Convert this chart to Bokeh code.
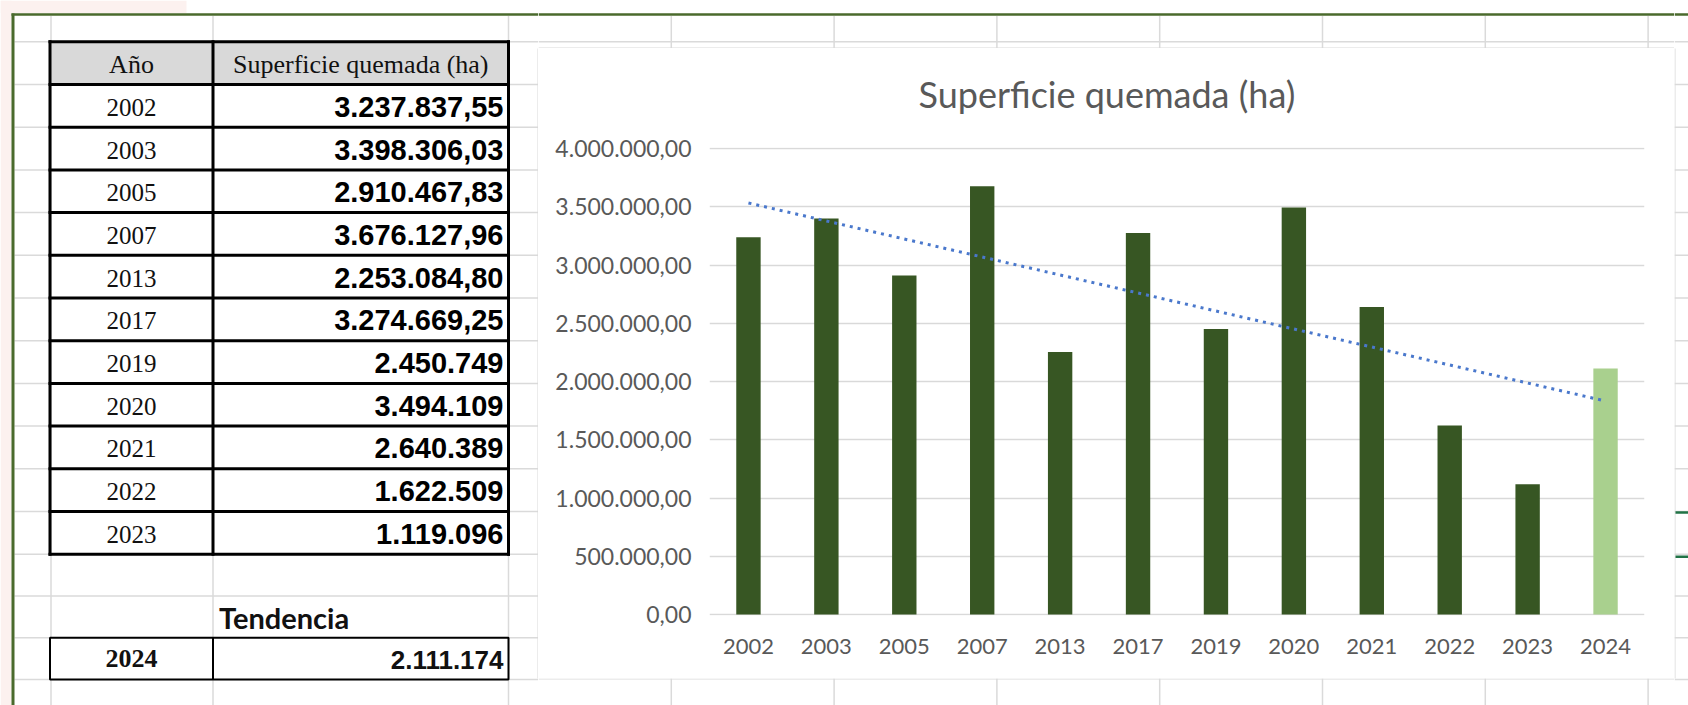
import numpy as np
from bokeh.plotting import figure
from bokeh.layouts import row, column
from bokeh.models import Range1d, FactorRange, FixedTicker, CustomJSTickFormatter, ColumnDataSource, Title
from bokeh.core.properties import value
from bokeh.embed import file_html
from bokeh.resources import INLINE

# ---------------- data ----------------
years = ["2002", "2003", "2005", "2007", "2013", "2017", "2019", "2020", "2021", "2022", "2023"]
burned_ha = [3237837.55, 3398306.03, 2910467.83, 3676127.96, 2253084.80, 3274669.25,
             2450749, 3494109, 2640389, 1622509, 1119096]
forecast_year = "2024"
forecast_ha = 2111174
y_ticks = [0, 500000, 1000000, 1500000, 2000000, 2500000, 3000000, 3500000, 4000000]
chart_title = "Superficie quemada (ha)"
header_year = "Año"
header_value = "Superficie quemada (ha)"
trend_label = "Tendencia"

# ---------------- styles / layout ----------------
GRID = "#dadada"
PAGE_GREEN = "#4a6a2c"
SEL_GREEN = "#217346"
DARK_BAR = "#375623"
LIGHT_BAR = "#a9d08e"
TREND = "#4a78cc"
AXIS_TXT = "#595959"
CHART_BORDER = "#d9d9d9"

X0, X1, Y0, Y1 = 0, 1688, 0, 705
CH_L, CH_R, CH_T, CH_B = 538, 1674, 48, 678
ROW_TOP, ROW_H, EXTRA_H = 41.3, 42.7, 41.8
T_LEFT, T_MID, T_RIGHT = 49.5, 212.5, 508.0

table_edges = [ROW_TOP + i * ROW_H for i in range(len(years) + 2)]
extra_edges = [table_edges[-1] + k * EXTRA_H for k in range(1, 4)]
grid_rows = table_edges + extra_edges
col_edges = [50.5, 212.5, 508.0] + [508.0 + 162.8 * k for k in range(1, 8)]


def fmt_es(v):
    if float(v).is_integer():
        s = f"{int(v):,}"
    else:
        s = f"{v:,.2f}"
    return s.replace(",", "X").replace(".", ",").replace("X", ".")


def canvas(x0, x1, y0, y1):
    p = figure(width=int(round(x1 - x0)), height=int(round(y1 - y0)),
               x_range=Range1d(x0, x1), y_range=Range1d(y1, y0),
               x_axis_type=None, y_axis_type=None, toolbar_location=None,
               output_backend="svg", min_border=0, outline_line_color=None,
               frame_align=False)
    p.background_fill_color = "white"
    p.border_fill_color = "white"
    return p


def hlines(p, ys, xa, xb, **kw):
    p.segment(x0=[xa] * len(ys), x1=[xb] * len(ys), y0=ys, y1=ys, **kw)


def vlines(p, xs, ya, yb, **kw):
    p.segment(x0=xs, x1=xs, y0=[ya] * len(xs), y1=[yb] * len(xs), **kw)


# ---------------- left part: sheet + table ----------------
left = canvas(X0, CH_L, Y0, Y1)
left.quad(left=[0, 0], right=[11, 186], top=[0, 0], bottom=[Y1, 12.5], fill_color="#fcf1ef", line_color=None)
hlines(left, grid_rows, 14, CH_L, line_color=GRID, line_width=1.5)
vlines(left, [c for c in col_edges if c < CH_L], 15.5, Y1, line_color=GRID, line_width=1.5)
vlines(left, [CH_L - 0.5], CH_T, CH_B, line_color=CHART_BORDER, line_width=1)

# header fill
left.quad(left=[T_LEFT], right=[T_RIGHT], top=[table_edges[0]], bottom=[table_edges[1]],
          fill_color="#d9d9d9", line_color=None)
# table borders
hlines(left, table_edges, T_LEFT, T_RIGHT, line_color="black", line_width=3, line_cap="square")
vlines(left, [T_LEFT, T_MID, T_RIGHT], table_edges[0], table_edges[-1], line_color="black", line_width=3, line_cap="square")

row_centers = [(table_edges[i] + table_edges[i + 1]) / 2 for i in range(len(table_edges) - 1)]
col1_c = (T_LEFT + T_MID) / 2
col2_c = (T_MID + T_RIGHT) / 2

left.text(x=[col1_c, col2_c], y=[row_centers[0] + 1] * 2, text=[header_year, header_value],
          text_font=value("Liberation Serif"), text_font_size=value("26px"),
          text_color="#111111", text_align="center", text_baseline="middle")
left.text(x=[col1_c] * len(years), y=[c + 1.5 for c in row_centers[1:]], text=years,
          text_font=value("Liberation Serif"), text_font_size=value("25px"),
          text_color="#111111", text_align="center", text_baseline="middle")
left.text(x=[T_RIGHT - 5] * len(years), y=[c + 1 for c in row_centers[1:]],
          text=[fmt_es(v) for v in burned_ha],
          text_font=value("Liberation Sans"), text_font_style="bold", text_font_size=value("29px"),
          text_color="#000000", text_align="right", text_baseline="middle")

# trend / forecast cell
tend_c = (extra_edges[0] + extra_edges[1]) / 2
left.text(x=[T_MID + 6], y=[tend_c + 1], text=[trend_label],
          text_font=value("Lato"), text_font_style="bold", text_font_size=value("29px"),
          text_color="#111111", text_align="left", text_baseline="middle")
box_top, box_bot = extra_edges[1], extra_edges[2]
left.quad(left=[T_LEFT], right=[T_RIGHT], top=[box_top], bottom=[box_bot],
          fill_color="white", line_color="black", line_width=2)
vlines(left, [T_MID], box_top, box_bot, line_color="black", line_width=2)
box_c = (box_top + box_bot) / 2
left.text(x=[col1_c], y=[box_c], text=[forecast_year],
          text_font=value("Liberation Serif"), text_font_style="bold", text_font_size=value("26px"),
          text_color="#111111", text_align="center", text_baseline="middle")
left.text(x=[T_RIGHT - 5], y=[box_c + 1], text=[fmt_es(forecast_ha)],
          text_font=value("Liberation Sans"), text_font_style="bold", text_font_size=value("26px"),
          text_color="#111111", text_align="right", text_baseline="middle")

# page border (green)
vlines(left, [12.5], 13, Y1, line_color=PAGE_GREEN, line_width=3)
hlines(left, [13.9], 11, CH_L, line_color=PAGE_GREEN, line_width=2.5)

# ---------------- top / bottom / right strips ----------------
top = canvas(CH_L, CH_R, Y0, CH_T)
hlines(top, [grid_rows[0]], CH_L, CH_R, line_color=GRID, line_width=1.5)
vlines(top, [c for c in col_edges if CH_L < c < CH_R], 15.5, CH_T, line_color=GRID, line_width=1.5)
hlines(top, [CH_T - 0.5], CH_L, CH_R, line_color=CHART_BORDER, line_width=1)
hlines(top, [13.9], CH_L, CH_R, line_color=PAGE_GREEN, line_width=2.5)

bottom = canvas(CH_L, CH_R, CH_B, Y1)
vlines(bottom, [c for c in col_edges if CH_L < c < CH_R], CH_B, Y1, line_color=GRID, line_width=1.5)
hlines(bottom, [CH_B + 0.5], CH_L, CH_R, line_color=CHART_BORDER, line_width=1)

right = canvas(CH_R, X1, Y0, Y1)
hlines(right, grid_rows, CH_R, X1, line_color=GRID, line_width=1.5)
vlines(right, [CH_R + 0.5], CH_T, CH_B, line_color=CHART_BORDER, line_width=1)
hlines(right, [13.9], CH_R, X1, line_color=PAGE_GREEN, line_width=2.5)
hlines(right, [table_edges[11] + 1, table_edges[12] + 2.5], CH_R + 1, X1, line_color=SEL_GREEN, line_width=2.5)

# ---------------- chart ----------------
all_years = years + [forecast_year]
all_vals = burned_ha + [forecast_ha]
bar_colors = [DARK_BAR] * len(years) + [LIGHT_BAR]
src = ColumnDataSource(dict(year=all_years, val=all_vals, color=bar_colors))

PLOT_L, PLOT_R = 709, 1644
Y_TOP_PX, Y_ZERO_PX = 148, 614
val_per_px = y_ticks[-1] / (Y_ZERO_PX - Y_TOP_PX)

chart = figure(width=CH_R - CH_L, height=CH_B - CH_T, title=None,
               x_range=FactorRange(factors=all_years, range_padding=0),
               y_range=Range1d(-val_per_px, y_ticks[-1] + val_per_px),
               toolbar_location=None, output_backend="svg",
               min_border_left=PLOT_L - CH_L, min_border_right=CH_R - PLOT_R,
               min_border_top=(Y_TOP_PX - 1) - CH_T, min_border_bottom=CH_B - (Y_ZERO_PX + 1),
               outline_line_color=None, frame_align=False)
chart.background_fill_color = "white"
chart.border_fill_color = "white"

chart.vbar(x="year", top="val", bottom=0, width=0.313, fill_color="color", line_color=None, source=src)

idx = np.arange(1, len(all_vals) + 1)
slope, intercept = np.polyfit(idx, np.array(all_vals, dtype=float), 1)
chart.line(x=[all_years[0], all_years[-1]], y=[intercept + slope * idx[0], intercept + slope * idx[-1]],
           line_color=TREND, line_width=3, line_dash="3 5")

chart.xgrid.visible = False
chart.ygrid.grid_line_color = "#d9d9d9"
chart.ygrid.grid_line_width = 1.5

chart.yaxis.ticker = FixedTicker(ticks=y_ticks)
chart.yaxis.formatter = CustomJSTickFormatter(code=r"""
const parts = tick.toFixed(2).split('.');
return parts[0].replace(/\B(?=(\d{3})+(?!\d))/g, '.') + ',' + parts[1];
""")
for ax in (chart.xaxis[0], chart.yaxis[0]):
    ax.axis_line_color = None
    ax.major_tick_line_color = None
    ax.minor_tick_line_color = None
    ax.major_tick_out = 0
    ax.major_tick_in = 0
    ax.major_label_text_font = "Lato"
    ax.major_label_text_color = AXIS_TXT
chart.yaxis.major_label_text_font_size = "23px"
chart.xaxis.major_label_text_font_size = "22px"
chart.yaxis.major_label_standoff = 18
chart.xaxis.major_label_standoff = 23

# spacer (closest to the plot area) then the visible title
chart.add_layout(Title(text=" ", text_font_size="1px", standoff=25), "above")
chart.add_layout(Title(text=chart_title, text_font="Lato", text_font_size="36px",
                       text_font_style="normal", text_color=AXIS_TXT,
                       align="left", offset=209, standoff=8), "above")

layout = row(left, column(top, chart, bottom), right)
open("out.html", "w").write(file_html(layout, INLINE))
